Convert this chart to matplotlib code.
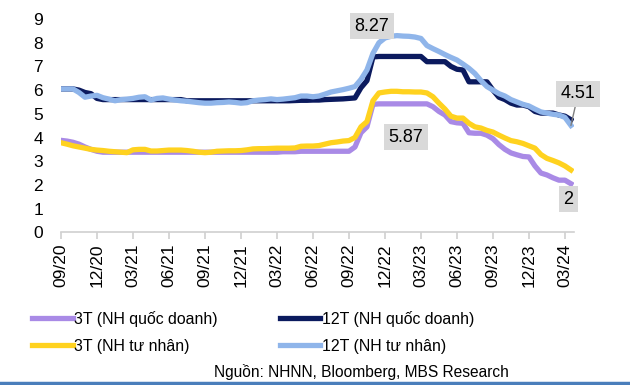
import matplotlib
matplotlib.use("Agg")

import matplotlib.pyplot as plt
import numpy as np

plt.rcParams["font.family"] = ["Liberation Sans", "DejaVu Sans"]

# half-month steps starting 09/2020 (index in months)
months = np.arange(0, 43, 0.5)

tick_pos = np.arange(0, 43, 3)
tick_labels = ["09/20", "12/20", "03/21", "06/21", "09/21", "12/21", "03/22",
               "06/22", "09/22", "12/22", "03/23", "06/23", "09/23", "12/23",
               "03/24"]

# 3T (NH quoc doanh)
qd_3t = [3.88, 3.85, 3.80, 3.72, 3.60, 3.50, 3.42, 3.38, 3.38, 3.38,
         3.38, 3.38, 3.38, 3.38, 3.38, 3.38, 3.38, 3.38, 3.38, 3.38,
         3.38, 3.38, 3.38, 3.38, 3.38, 3.38, 3.38, 3.38, 3.38, 3.38,
         3.38, 3.38, 3.38, 3.38, 3.38, 3.38, 3.38, 3.40, 3.40, 3.40,
         3.42, 3.42, 3.42, 3.42, 3.42, 3.42, 3.42, 3.42, 3.42, 3.60,
         4.20, 4.45, 5.40, 5.42, 5.42, 5.42, 5.42, 5.42, 5.42, 5.42,
         5.42, 5.42, 5.30, 5.10, 4.95, 4.67, 4.62, 4.60, 4.20, 4.18,
         4.18, 4.10, 3.95, 3.70, 3.50, 3.35, 3.27, 3.20, 3.18, 2.80,
         2.50, 2.42, 2.30, 2.20, 2.20, 2.05]

# 12T (NH quoc doanh)
qd_12t = [6.05, 6.05, 6.05, 6.00, 5.90, 5.85, 5.65, 5.60, 5.60, 5.60,
          5.60, 5.60, 5.60, 5.60, 5.60, 5.60, 5.60, 5.60, 5.60, 5.60,
          5.60, 5.55, 5.55, 5.55, 5.55, 5.55, 5.55, 5.55, 5.55, 5.55,
          5.55, 5.55, 5.55, 5.55, 5.55, 5.55, 5.55, 5.55, 5.55, 5.56,
          5.57, 5.57, 5.58, 5.58, 5.60, 5.61, 5.62, 5.63, 5.65, 5.67,
          6.10, 6.40, 7.40, 7.42, 7.42, 7.42, 7.42, 7.42, 7.42, 7.42,
          7.42, 7.20, 7.20, 7.20, 7.20, 7.00, 6.88, 6.85, 6.35, 6.35,
          6.35, 6.35, 6.00, 5.70, 5.60, 5.45, 5.37, 5.37, 5.30, 5.10,
          5.03, 5.03, 5.03, 4.95, 4.90, 4.75]

# 3T (NH tu nhan)
tn_3t = [3.78, 3.72, 3.65, 3.60, 3.55, 3.50, 3.47, 3.45, 3.42, 3.40,
         3.38, 3.36, 3.48, 3.50, 3.50, 3.43, 3.43, 3.45, 3.47, 3.47,
         3.47, 3.45, 3.42, 3.38, 3.36, 3.38, 3.42, 3.43, 3.44, 3.44,
         3.45, 3.48, 3.52, 3.53, 3.53, 3.54, 3.55, 3.55, 3.55, 3.56,
         3.63, 3.64, 3.64, 3.66, 3.72, 3.78, 3.81, 3.85, 3.87, 4.00,
         4.45, 4.67, 5.55, 5.88, 5.92, 5.95, 5.95, 5.93, 5.93, 5.92,
         5.92, 5.88, 5.72, 5.45, 5.20, 4.90, 4.82, 4.82, 4.60, 4.45,
         4.40, 4.30, 4.23, 4.10, 3.98, 3.87, 3.82, 3.75, 3.65, 3.55,
         3.28, 3.12, 3.03, 2.93, 2.80, 2.63]

# 12T (NH tu nhan)
tn_12t = [6.05, 6.05, 6.05, 5.90, 5.70, 5.75, 5.78, 5.68, 5.62, 5.55,
          5.60, 5.62, 5.65, 5.70, 5.72, 5.58, 5.65, 5.67, 5.62, 5.58,
          5.55, 5.53, 5.50, 5.47, 5.45, 5.45, 5.47, 5.48, 5.50, 5.48,
          5.45, 5.47, 5.55, 5.58, 5.60, 5.63, 5.60, 5.62, 5.65, 5.68,
          5.75, 5.75, 5.72, 5.75, 5.83, 5.92, 5.97, 6.02, 6.08, 6.15,
          6.45, 6.85, 7.55, 8.00, 8.20, 8.27, 8.30, 8.28, 8.27, 8.24,
          8.18, 7.88, 7.75, 7.63, 7.50, 7.38, 7.27, 7.10, 6.92, 6.70,
          6.40, 6.15, 6.00, 5.85, 5.75, 5.60, 5.50, 5.40, 5.33, 5.20,
          5.08, 5.03, 4.98, 4.95, 4.85, 4.51]

series = [
    ("3T (NH quốc doanh)", qd_3t, "#a98ae6"),
    ("3T (NH tư nhân)", tn_3t, "#ffd21f"),
    ("12T (NH quốc doanh)", qd_12t, "#0b1a5e"),
    ("12T (NH tư nhân)", tn_12t, "#8fb5ea"),
]
draw_order = [0, 2, 1, 3]

fig = plt.figure(figsize=(6.3, 3.85), dpi=100)
ax = fig.add_axes([0.0968, 0.3966, 0.8142, 0.554])

handles = {}
for i in draw_order:
    name, vals, col = series[i]
    handles[i], = ax.plot(months, vals, color=col, lw=3.8, label=name,
                          solid_joinstyle="round")

ax.set_xlim(0, 42.75)
ax.set_ylim(0, 9)
ax.set_yticks(range(10))
ax.set_xticks(tick_pos)
ax.set_xticklabels(tick_labels, rotation=90)
for s in ["top", "right", "left"]:
    ax.spines[s].set_visible(False)
ax.spines["bottom"].set_color("#d0d0d0")
ax.spines["bottom"].set_linewidth(1.2)
ax.tick_params(axis="y", length=0, pad=13, labelsize=12.5)
ax.tick_params(axis="x", length=5, color="#d0d0d0", width=1.2, pad=3,
               labelsize=12.5)

box = dict(boxstyle="square,pad=0.25", fc="#d9d9d9", ec="none")
ax.text(25.9, 8.7, "8.27", ha="center", va="center", fontsize=13, bbox=box)
ax.text(28.75, 4.02, "5.87", ha="center", va="center", fontsize=13, bbox=box)
ax.text(42.3, 1.4, "2", ha="center", va="center", fontsize=13, bbox=box,
        clip_on=False)
ax.annotate("4.51", xy=(42.5, 4.51), xytext=(43.1, 5.84), ha="center",
            va="center", fontsize=13, bbox=box, annotation_clip=False,
            arrowprops=dict(arrowstyle="-", color="#7f7f7f", lw=1,
                            shrinkA=0, shrinkB=0))

fig.legend([handles[i] for i in range(4)], [s[0] for s in series],
           loc="upper left", bbox_to_anchor=(0.051, 0.193), ncol=2,
           frameon=False, fontsize=11.4, handlelength=2.55, handletextpad=0.12,
           columnspacing=3.9, labelspacing=0.75, borderpad=0, borderaxespad=0)

fig.text(0.808, 0.034, "Nguồn: NHNN, Bloomberg, MBS Research", ha="right",
         va="center", fontsize=11.2)
fig.add_artist(plt.Line2D([0, 1], [0.004, 0.004], color="#4a7ebb", lw=2.5,
                          transform=fig.transFigure))

fig.savefig("out.png", dpi=100)
